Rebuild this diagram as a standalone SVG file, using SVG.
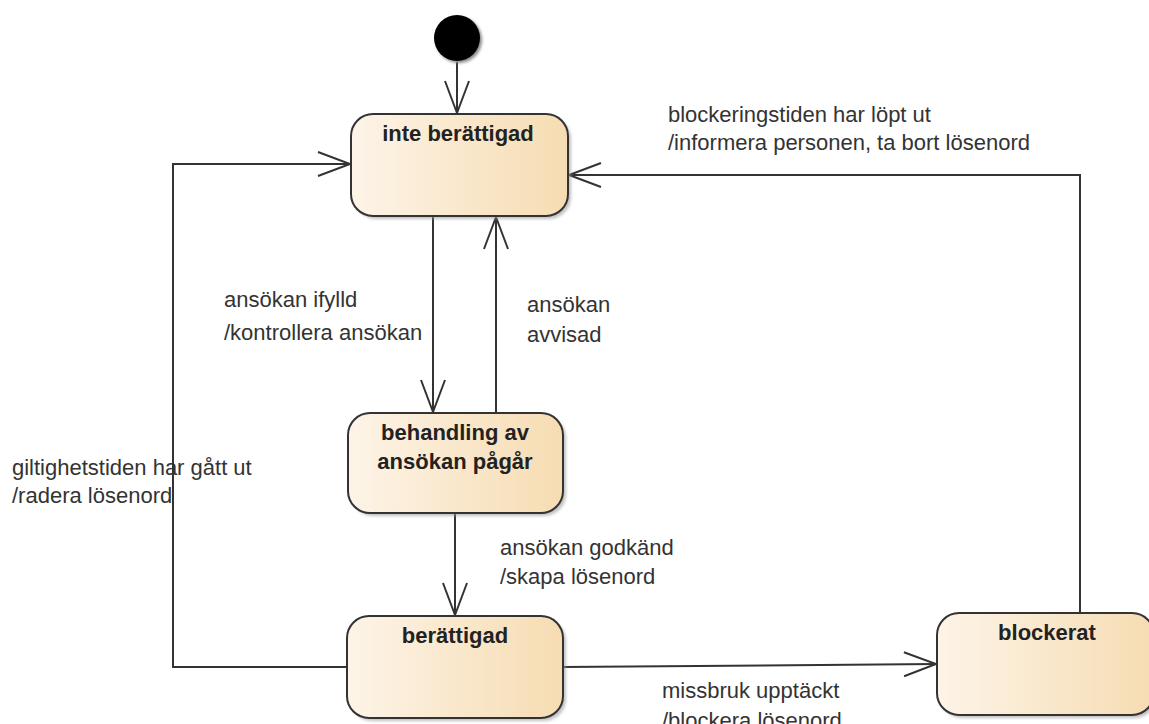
<svg xmlns="http://www.w3.org/2000/svg" width="1149" height="724" viewBox="0 0 1149 724">
<defs>
<linearGradient id="g" x1="0" y1="0" x2="1" y2="0">
<stop offset="0" stop-color="#fdf4e8"/>
<stop offset="1" stop-color="#f6dcb2"/>
</linearGradient>
<filter id="sh" x="-10%" y="-10%" width="130%" height="130%">
<feGaussianBlur stdDeviation="1.5"/>
</filter>
<marker id="arr" markerWidth="40" markerHeight="30" refX="34" refY="14" orient="auto" markerUnits="userSpaceOnUse">
<path d="M2,2 L34,14 L2,26" fill="none" stroke="#333" stroke-width="2"/>
</marker>
</defs>
<style>
.st{fill:url(#g);stroke:#333;stroke-width:2}
.shd{fill:#999;opacity:0.6;filter:url(#sh)}
.t{font-family:"Liberation Sans",Arial,sans-serif;font-size:22px;font-weight:bold;fill:#222;text-anchor:middle}
.l{font-family:"Liberation Sans",Arial,sans-serif;font-size:22px;fill:#333}
.c{fill:none;stroke:#333;stroke-width:2;marker-end:url(#arr)}
</style>
<rect width="1149" height="724" fill="#fff"/>
<g id="connectors">
<line class="c" x1="457" y1="62" x2="457" y2="113"/>
<line class="c" x1="433" y1="216" x2="433" y2="412"/>
<line class="c" x1="496" y1="413" x2="496" y2="217"/>
<line class="c" x1="455" y1="513" x2="455" y2="615"/>
<polyline class="c" points="347,667 173,667 173,164 350,164"/>
<polyline class="c" points="1080,613 1080,175 569,175"/>
<line class="c" x1="563" y1="667" x2="936" y2="664"/>
</g>
<g id="labels">
<text class="l" x="668" y="122">blockeringstiden har löpt ut</text>
<text class="l" x="668" y="150">/informera personen, ta bort lösenord</text>
<text class="l" x="224" y="307">ansökan ifylld</text>
<text class="l" x="224" y="340">/kontrollera ansökan</text>
<text class="l" x="527" y="312">ansökan</text>
<text class="l" x="527" y="342">avvisad</text>
<text class="l" x="12" y="475">giltighetstiden har gått ut</text>
<text class="l" x="12" y="503">/radera lösenord</text>
<text class="l" x="500" y="555">ansökan godkänd</text>
<text class="l" x="500" y="584">/skapa lösenord</text>
<text class="l" x="662" y="698">missbruk upptäckt</text>
<text class="l" x="662" y="728">/blockera lösenord</text>
</g>
<g id="initial">
<circle cx="459" cy="40" r="23" fill="#888" filter="url(#sh)"/>
<circle cx="457" cy="38" r="23" fill="#000"/>
</g>
<g id="inte-berattigad">
<rect class="shd" x="354" y="117" width="217" height="102" rx="22"/>
<rect class="st" x="351" y="114" width="217" height="102" rx="22"/>
<text class="t" x="458" y="141">inte berättigad</text>
</g>
<g id="behandling">
<rect class="shd" x="351" y="416" width="215" height="100" rx="22"/>
<rect class="st" x="348" y="413" width="215" height="100" rx="22"/>
<text class="t" x="455" y="440">behandling av</text>
<text class="t" x="455" y="469">ansökan pågår</text>
</g>
<g id="berattigad">
<rect class="shd" x="350" y="619" width="216" height="102" rx="22"/>
<rect class="st" x="347" y="616" width="216" height="102" rx="22"/>
<text class="t" x="455" y="643">berättigad</text>
</g>
<g id="blockerat">
<rect class="shd" x="940" y="616" width="217" height="102" rx="22"/>
<rect class="st" x="937" y="613" width="217" height="102" rx="22"/>
<text class="t" x="1047" y="640">blockerat</text>
</g>
</svg>
